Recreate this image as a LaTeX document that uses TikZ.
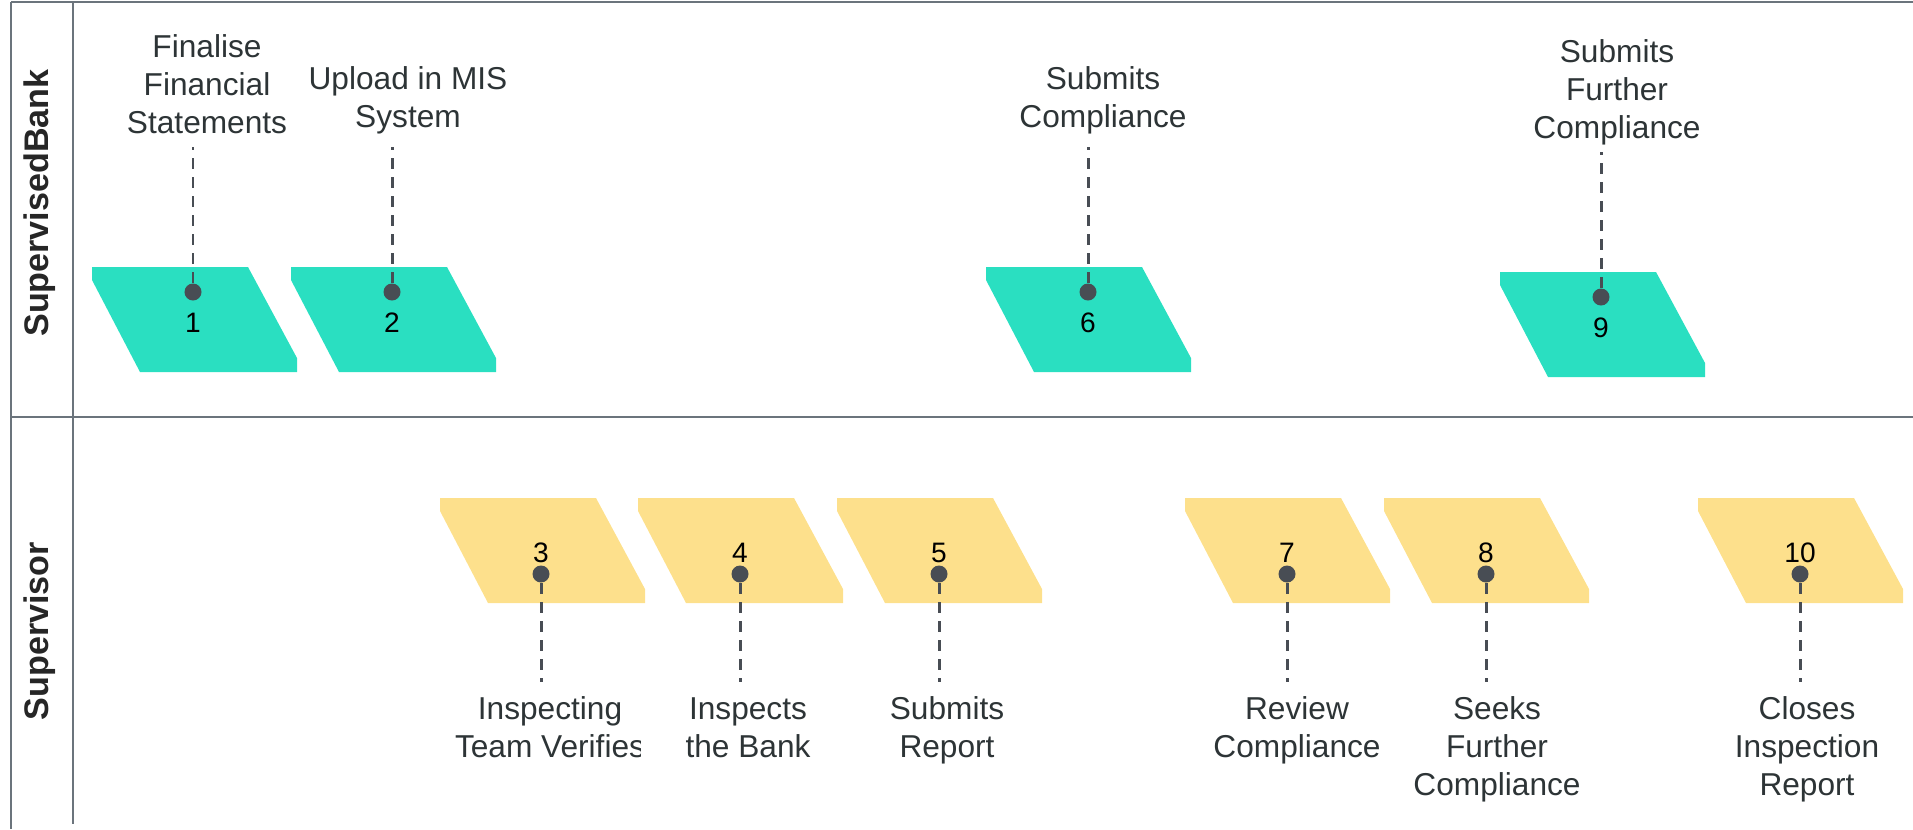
\documentclass[tikz,border=0pt]{standalone}
\usepackage{fontspec}
\setmainfont{Liberation Sans}
\usetikzlibrary{positioning}
\definecolor{teal1}{RGB}{42,223,193}
\definecolor{gold1}{RGB}{253,224,140}
\definecolor{dotc}{RGB}{72,77,84}
\definecolor{framec}{RGB}{107,116,124}
\definecolor{txtc}{RGB}{45,52,54}
\tikzset{
  frame/.style  = { draw=framec, line width=0.6pt },
  dot/.style    = { circle, fill=dotc, inner sep=0pt, minimum size=0.17cm },
  lead/.style   = { draw=dotc, line width=0.85pt, dash pattern=on 0.11cm off 0.08cm },
  steptext/.style = { align=center, anchor=base, inner sep=0pt, text=txtc,
    font=\fontsize{9}{10.8}\selectfont },
  num/.style    = { anchor=base, inner sep=0pt, font=\fontsize{8}{9.6}\selectfont },
  lane/.style   = { rotate=90, inner sep=0pt, text=black!85,
    font=\fontsize{9.7}{11}\selectfont\bfseries }
}
% step shape: top-left corner, fill colour
\newcommand{\stepbox}[3]{\fill[#3] (#1,#2) -- ++(156,0) -- ++(49,91) -- ++(0,14) -- ++(-157,0) -- ++(-48,-92) -- cycle;}
\begin{document}
\begin{tikzpicture}[x=0.01cm,y=-0.01cm]
      \useasboundingbox (0,0) rectangle (1913,829);
      % lanes
      \draw[frame] (11,2) -- (1913,2);
      \draw[frame] (11,2) -- (11,829);
      \draw[frame] (73,2) -- (73,824);
      \draw[frame] (11,417) -- (1913,417);
      \node[lane] (bank) at (40,203) {SupervisedBank};
      \node[lane] (sup) at (40,631) {Supervisor};
      % supervised bank
      \stepbox{92}{267}{teal1}
      \stepbox{291}{267}{teal1}
      \stepbox{986}{267}{teal1}
      \stepbox{1500}{272}{teal1}
      % supervisor
      \stepbox{440}{498}{gold1}
      \stepbox{638}{498}{gold1}
      \stepbox{837}{498}{gold1}
      \stepbox{1185}{498}{gold1}
      \stepbox{1384}{498}{gold1}
      \stepbox{1698}{498}{gold1}
      % dots and numbers
      \node[dot] (d1) at (193,292) {};
      \node[dot] (d2) at (392,292) {};
      \node[dot] (d6) at (1088,292) {};
      \node[dot] (d9) at (1601,297) {};
      \node[dot] (d3) at (541,574) {};
      \node[dot] (d4) at (740,574) {};
      \node[dot] (d5) at (939,574) {};
      \node[dot] (d7) at (1287,574) {};
      \node[dot] (d8) at (1486,574) {};
      \node[dot] (d10) at (1800,574) {};
      \node[num] (n1) at (193,332) {1};
      \node[num] (n2) at (392,332) {2};
      \node[num] (n6) at (1088,332) {6};
      \node[num] (n9) at (1601,337) {9};
      \node[num] (n3) at (541,562) {3};
      \node[num] (n4) at (740,562) {4};
      \node[num] (n5) at (939,562) {5};
      \node[num] (n7) at (1287,562) {7};
      \node[num] (n8) at (1486,562) {8};
      \node[num] (n10) at (1800,562) {10};
      % labels (base = last line)
      \node[steptext] (t1) at (207,133) {Finalise\\Financial\\Statements};
      \node[steptext] (t2) at (408,127) {Upload in MIS\\System};
      \node[steptext] (t6) at (1103,127) {Submits\\Compliance};
      \node[steptext] (t9) at (1617,138) {Submits\\Further\\Compliance};
      \begin{scope}
        \clip (440,680) rectangle (640,800);
        \node[steptext] (t3) at (550,757) {Inspecting\\Team Verifies};
      \end{scope}
      \node[steptext] (t4) at (748,757) {Inspects\\the Bank};
      \node[steptext] (t5) at (947,757) {Submits\\Report};
      \node[steptext] (t7) at (1297,757) {Review\\Compliance};
      \node[steptext] (t8) at (1497,795) {Seeks\\Further\\Compliance};
      \node[steptext] (t10) at (1807,795) {Closes\\Inspection\\Report};
      % leaders
      \coordinate (c1) at (193,147);
      \coordinate (c2) at (392,147);
      \coordinate (c6) at (1088,147);
      \coordinate (c9) at (1601,152);
      \coordinate (c3) at (541,682);
      \coordinate (c4) at (740,682);
      \coordinate (c5) at (939,682);
      \coordinate (c7) at (1287,682);
      \coordinate (c8) at (1486,682);
      \coordinate (c10) at (1800,682);
      \path[lead] (d1) edge (c1) (d2) edge (c2) (d6) edge (c6) (d9) edge (c9);
      \path[lead] (d3) edge (c3) (d4) edge (c4) (d5) edge (c5);
      \path[lead] (d7) edge (c7) (d8) edge (c8) (d10) edge (c10);
    \end{tikzpicture}
\end{document}
